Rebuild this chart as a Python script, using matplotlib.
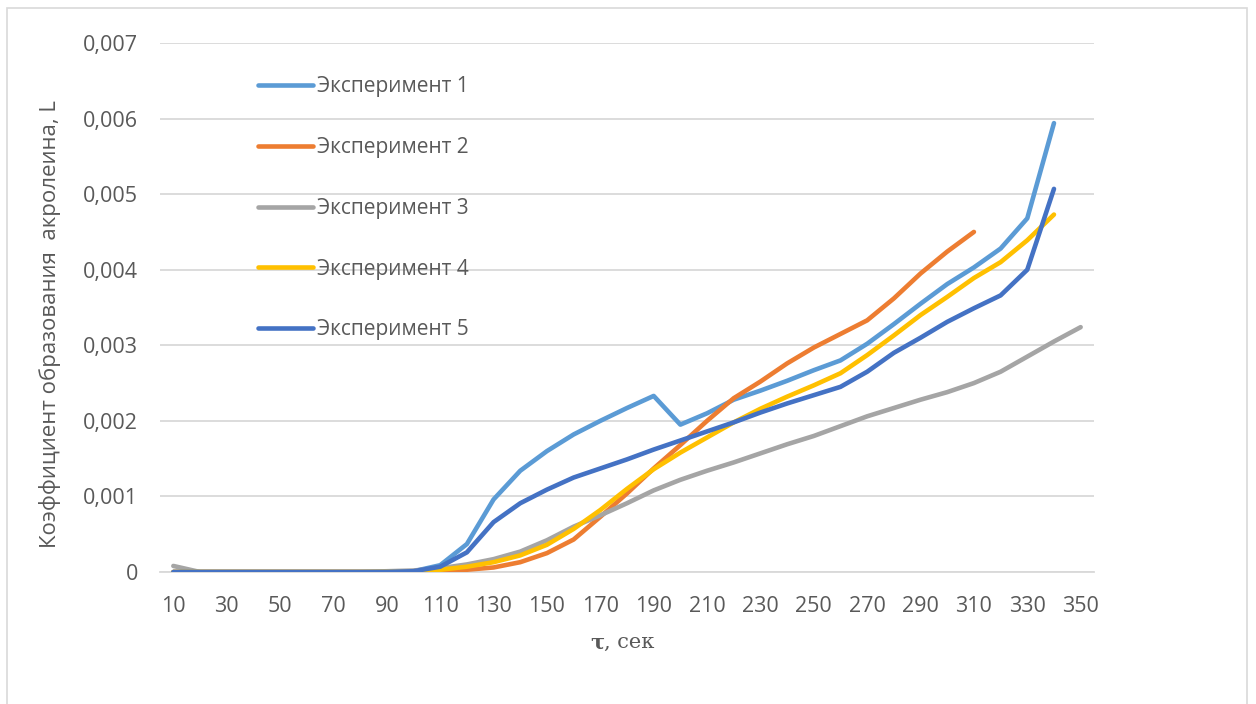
import matplotlib
matplotlib.use("Agg")
import matplotlib.pyplot as plt
from matplotlib.patches import Rectangle

# Time, s
tau = list(range(10, 360, 10))

exp1 = [0, 0, 0, 0, 0, 0, 0, 0, 0, 0.00001,
        0.00009, 0.00037, 0.00096, 0.00134, 0.00160, 0.00182, 0.00200, 0.00217, 0.00233, 0.00195,
        0.00210, 0.00228, 0.00240, 0.00253, 0.00267, 0.00280, 0.00302, 0.00328, 0.00355, 0.00381,
        0.00403, 0.00428, 0.00468, 0.00594]
exp2 = [0, 0, 0, 0, 0, 0, 0, 0, 0, 0,
        0.00001, 0.00003, 0.00006, 0.00013, 0.00025, 0.00043, 0.00073, 0.00104, 0.00137, 0.00168,
        0.00200, 0.00230, 0.00252, 0.00276, 0.00297, 0.00315, 0.00333, 0.00362, 0.00395, 0.00424,
        0.00450]
exp3 = [0.00008, 0, 0, 0, 0, 0, 0, 0, 0.00001, 0.00002,
        0.00005, 0.00010, 0.00017, 0.00027, 0.00042, 0.00060, 0.00075, 0.00091, 0.00108, 0.00122,
        0.00134, 0.00145, 0.00157, 0.00169, 0.00180, 0.00193, 0.00206, 0.00217, 0.00228, 0.00238,
        0.00250, 0.00265, 0.00285, 0.00305, 0.00324]
exp4 = [0, 0, 0, 0, 0, 0, 0, 0, 0, 0,
        0.00003, 0.00007, 0.00013, 0.00022, 0.00036, 0.00057, 0.00082, 0.00110, 0.00136, 0.00158,
        0.00178, 0.00198, 0.00216, 0.00232, 0.00247, 0.00263, 0.00287, 0.00313, 0.00340, 0.00364,
        0.00389, 0.00410, 0.00439, 0.00473]
exp5 = [0, 0, 0, 0, 0, 0, 0, 0, 0, 0.00001,
        0.00007, 0.00026, 0.00066, 0.00091, 0.00109, 0.00125, 0.00137, 0.00149, 0.00162, 0.00174,
        0.00186, 0.00198, 0.00211, 0.00223, 0.00234, 0.00245, 0.00265, 0.00290, 0.00310, 0.00331,
        0.00349, 0.00366, 0.00400, 0.00507]

series = [
    ("Эксперимент 1", exp1, "#5B9BD5"),
    ("Эксперимент 2", exp2, "#ED7D31"),
    ("Эксперимент 3", exp3, "#A5A5A5"),
    ("Эксперимент 4", exp4, "#FFC000"),
    ("Эксперимент 5", exp5, "#4472C4"),
]

y_ticks = [0, 0.001, 0.002, 0.003, 0.004, 0.005, 0.006, 0.007]
y_tick_labels = ["0", "0,001", "0,002", "0,003", "0,004", "0,005", "0,006", "0,007"]

ylabel = "Коэффициент образования  акролеина, L"

plt.rcParams["font.family"] = ["Open Sans", "DejaVu Sans"]
text_color = "#595959"
grid_color = "#D9D9D9"
serif = ["DejaVu Serif"]

fig = plt.figure(figsize=(12.56, 7.04), dpi=100)
# chart frame (runs past the lower edge)
fig.patches.append(Rectangle((7 / 1256, -20 / 704), 1240 / 1256, 716 / 704,
                             transform=fig.transFigure, fill=False,
                             edgecolor=grid_color, linewidth=1.2))

ax = fig.add_axes([160 / 1256, 132 / 704, 934 / 1256, 529 / 704])

for name, vals, color in series:
    ax.plot(range(len(vals)), vals, color=color, linewidth=3.3,
            solid_capstyle="round", solid_joinstyle="round", label=name, zorder=3)

ax.set_xlim(-0.5, len(tau) - 0.5)
ax.set_ylim(0, 0.007)
ax.set_yticks(y_ticks)
ax.set_yticklabels(y_tick_labels)
ax.set_xticks(range(0, len(tau), 2))
ax.set_xticklabels([str(t) for t in tau[::2]])
ax.tick_params(axis="both", length=0, labelsize=15.5, colors=text_color)
ax.tick_params(axis="x", pad=17)
ax.tick_params(axis="y", pad=16)
ax.grid(axis="y", color=grid_color, linewidth=1.3, zorder=0)
for side in ("top", "right", "left"):
    ax.spines[side].set_visible(False)
ax.spines["bottom"].set_color(grid_color)
ax.spines["bottom"].set_linewidth(1.3)

ax.set_ylabel(ylabel, fontsize=16, color=text_color)
ax.yaxis.set_label_coords(-0.106, 0.469)

# Axis title: bold tau followed by regular unit text
t_sym = fig.text(604 / 1256, 1 - 648 / 704, "τ", fontsize=15, fontweight="bold",
                 family=serif, color=text_color, ha="right", va="baseline")
ax.annotate(", сек", xy=(1, 0), xycoords=t_sym, xytext=(0, 0),
            textcoords="offset points", fontsize=15,
            family=serif, color=text_color, ha="left", va="bottom")

leg = ax.legend(loc="upper left", bbox_to_anchor=(0.105, 0.937), frameon=False,
                fontsize=15, handlelength=2.62, handletextpad=0.22,
                labelspacing=1.91, borderpad=0, borderaxespad=0)
for txt in leg.get_texts():
    txt.set_color(text_color)

fig.savefig("out.png", dpi=100, facecolor="white")
